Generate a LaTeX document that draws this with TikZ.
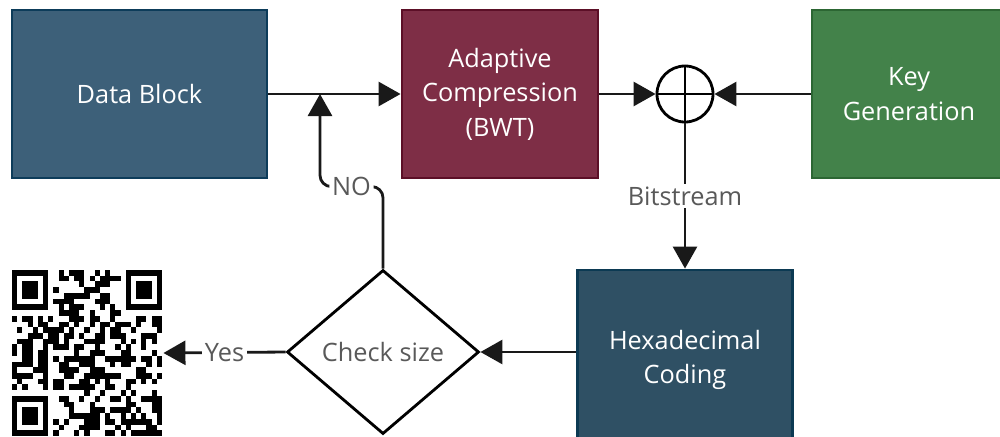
\documentclass[tikz,border=0pt]{standalone}
\usepackage{fontspec}
\setmainfont{Open Sans}
\usetikzlibrary{arrows.meta,shapes.geometric}
\definecolor{datafill}{HTML}{3D6079}
\definecolor{dataline}{HTML}{0D3C5A}
\definecolor{compfill}{HTML}{7E2E46}
\definecolor{compline}{HTML}{5C0F27}
\definecolor{keyfill}{HTML}{43824A}
\definecolor{keyline}{HTML}{2C6633}
\definecolor{hexfill}{HTML}{2F5064}
\definecolor{hexline}{HTML}{0C3A53}
\definecolor{lblgray}{HTML}{595959}

\begin{document}
\begin{tikzpicture}[x=0.025cm, y=-0.025cm, line width=2pt,
  box/.style={draw, line width=2pt, text=white, align=center,
    font=\fontsize{18}{24.5}\selectfont, minimum height=4.2cm},
  arr/.style={-{Triangle[length=0.55cm,width=0.6cm]}, line width=2pt, draw=black!90},
  lbl/.style={fill=white, text=lblgray, font=\fontsize{18}{24}\selectfont, inner sep=2pt}]
\useasboundingbox (0,0) rectangle (1000,436);
\clip (0,0) rectangle (1000,436);

% boxes
\node[box, fill=datafill, draw=dataline, minimum width=6.375cm] (data) at (139.5,94) {Data Block};
\node[box, fill=compfill, draw=compline, minimum width=4.9cm] (comp) at (500,94) {Adaptive\\Compression\\(BWT)};
\node[draw, circle, fill=white, minimum size=1.4cm, inner sep=0pt] (xor) at (685,94) {};
\draw (xor.north) -- (xor.south) (xor.west) -- (xor.east);
\node[box, fill=keyfill, draw=keyline, minimum width=4.85cm] (key) at (909,94) {Key\\Generation};
\node[box, fill=hexfill, draw=hexline, minimum width=5.375cm, minimum height=4.5cm] (hex) at (685,360) {Hexadecimal\\Coding};
\node[draw, diamond, line width=2pt, minimum width=4.8cm, minimum height=4.1cm, inner sep=0pt,
  text=lblgray, font=\fontsize{18}{24}\selectfont] (chk) at (383,352) {Check size};
\node[minimum width=3.75cm, minimum height=4.15cm, inner sep=0pt] (qr) at (87,353) {};
\coordinate (join) at (320,94);

% qr code
\pgfmathsetseed{4711}
\foreach \c in {0,...,28}
  \foreach \r in {0,...,28}{
    \pgfmathtruncatemacro\on{((\c<8 && \r<8) || (\c>20 && \r<8) || (\c<8 && \r>20)) ? 0 : (rnd<0.53)}
    \ifnum\on=1 \fill (12+\c*5.172,270+\r*5.724) rectangle ++(5.172,5.724); \fi
  }
\foreach \fx/\fy in {12/270, 125.8/270, 12/395.9}{
  \fill (\fx,\fy) rectangle ++(36.2,40.07);
  \fill[white] (\fx+5.172,\fy+5.724) rectangle ++(25.86,28.62);
  \fill (\fx+10.344,\fy+11.448) rectangle ++(15.52,17.17);
}

% connectors
\draw[arr] (data.east) -- (comp.west);
\draw[arr] (comp.east) -- (xor.west);
\draw[arr] (key.west) -- (xor.east);
\draw[arr] (xor.south) -- node[lbl] {Bitstream} (hex.north);
\draw[arr] (chk.east -| hex.west) -- (chk.east);
\draw[arr] (chk.west) -- node[lbl] {Yes} (qr.east);
\draw[arr, rounded corners=8pt] (chk.north) -- ++(0,-82) -| node[lbl, pos=0.25] {NO} (join);
\end{tikzpicture}
\end{document}
